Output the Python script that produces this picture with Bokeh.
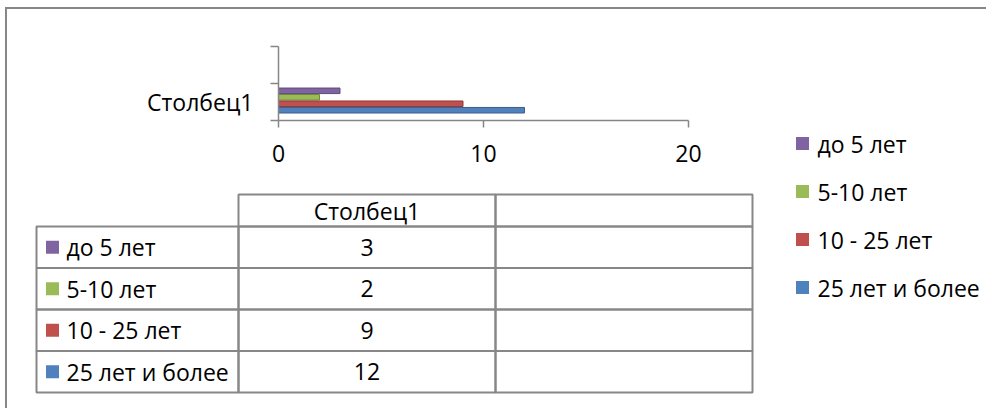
from bokeh.plotting import figure
from bokeh.layouts import row, column
from bokeh.models import Range1d, FixedTicker, ColumnDataSource
from bokeh.core.properties import value
from bokeh.embed import file_html
from bokeh.resources import INLINE

# ---------------- data ----------------
categories = ["Столбец1", ""]
series = ["до 5 лет", "5-10 лет", "10 - 25 лет", "25 лет и более"]
values = [3, 2, 9, 12]
colors = ["#8064A2", "#9BBB59", "#C0504D", "#4F81BD"]
edge_colors = ["#5E4A7A", "#71893F", "#8E3A38", "#3A5F8C"]
x_ticks = [0, 10, 20]
table_header = ["Столбец1", ""]

FONT = "Open Sans"
FS = "23px"
GRID = "#878787"
AXIS = "#868686"

# ---------------- chart (bars) ----------------
A_W, A_H = 753, 183
pA = figure(width=A_W, height=A_H, output_backend="svg", toolbar_location=None,
            x_range=Range1d(0, 20), y_range=Range1d(0, len(categories)),
            min_border_left=271, min_border_right=72, min_border_top=37, min_border_bottom=72)
pA.outline_line_color = None
pA.grid.visible = False

n = len(series)
ypos = [0.54 + ((n - 1 - i) - (n - 1) / 2) * 0.175 for i in range(n)]
srcA = ColumnDataSource(dict(y=ypos, right=values, color=colors, edge=edge_colors))
pA.hbar(y="y", left=0, right="right", height=0.15, fill_color="color",
        line_color="edge", line_width=1, source=srcA)

pA.xaxis.ticker = FixedTicker(ticks=x_ticks, minor_ticks=[])
pA.xaxis.major_tick_out = 7
pA.xaxis.major_tick_in = 0
pA.xaxis.axis_line_color = AXIS
pA.xaxis.axis_line_width = 1.5
pA.xaxis.major_tick_line_color = AXIS
pA.xaxis.major_tick_line_width = 1.5
pA.xaxis.major_label_text_font = FONT
pA.xaxis.major_label_text_font_size = FS
pA.xaxis.major_label_text_color = "black"
pA.xaxis.major_label_standoff = 17

cat_ticks = [i + 0.5 for i in range(len(categories))]
pA.yaxis.ticker = FixedTicker(ticks=cat_ticks, minor_ticks=list(range(len(categories) + 1)))
pA.yaxis.major_label_overrides = {t: c for t, c in zip(cat_ticks, categories)}
pA.yaxis.major_tick_out = 0
pA.yaxis.major_tick_in = 0
pA.yaxis.minor_tick_out = 8
pA.yaxis.minor_tick_in = 0
pA.yaxis.minor_tick_line_color = AXIS
pA.yaxis.minor_tick_line_width = 1.5
pA.yaxis.axis_line_color = AXIS
pA.yaxis.axis_line_width = 1.5
pA.yaxis.major_label_text_font = FONT
pA.yaxis.major_label_text_font_size = FS
pA.yaxis.major_label_text_color = "black"
pA.yaxis.major_label_standoff = 17

# ---------------- data table ----------------
B_W, B_H = 753, 216
pB = figure(width=B_W, height=B_H, output_backend="svg", toolbar_location=None,
            x_range=Range1d(0, B_W), y_range=Range1d(B_H, 0),
            min_border=0, min_border_left=0, min_border_right=0,
            min_border_top=0, min_border_bottom=0)
pB.axis.visible = False
pB.grid.visible = False
pB.outline_line_color = None

col_edges = [29, 231, 488, 745]
row_top = 2
head_h = 32
row_h = 41.5
body_top = row_top + head_h

hl = col_edges[1:-1]
hr = col_edges[2:]
pB.quad(left=hl, right=hr, top=[row_top] * len(hl), bottom=[body_top] * len(hl),
        fill_color=None, line_color=GRID, line_width=2)
pB.text(x=[(l + r) / 2 for l, r in zip(hl, hr)], y=[row_top + head_h / 2] * len(hl),
        text=table_header, text_font=value(FONT), text_font_size=value(FS),
        text_align="center", text_baseline="middle", text_color="black")

cl, cr, ct, cb = [], [], [], []
for k in range(n):
    for j in range(len(col_edges) - 1):
        cl.append(col_edges[j]); cr.append(col_edges[j + 1])
        ct.append(body_top + k * row_h); cb.append(body_top + (k + 1) * row_h)
pB.quad(left=cl, right=cr, top=ct, bottom=cb, fill_color=None, line_color=GRID, line_width=2)

row_mid = [body_top + (k + 0.5) * row_h for k in range(n)]
pB.scatter(x=[col_edges[0] + 16] * n, y=row_mid, marker="square", size=13,
           fill_color=colors, line_color=None)
pB.text(x=[col_edges[0] + 30] * n, y=row_mid, text=series, text_font=value(FONT),
        text_font_size=value(FS), text_align="left", text_baseline="middle", text_color="black")
pB.text(x=[(col_edges[1] + col_edges[2]) / 2] * n, y=row_mid, text=[str(v) for v in values],
        text_font=value(FONT), text_font_size=value(FS), text_align="center",
        text_baseline="middle", text_color="black")

# ---------------- legend ----------------
C_W, C_H = 226, 399
pC = figure(width=C_W, height=C_H, output_backend="svg", toolbar_location=None,
            x_range=Range1d(0, C_W), y_range=Range1d(C_H, 0),
            min_border=0, min_border_left=0, min_border_right=0,
            min_border_top=0, min_border_bottom=0)
pC.axis.visible = False
pC.grid.visible = False
pC.outline_line_color = None
leg_y = [134 + 48 * k for k in range(n)]
pC.scatter(x=[42] * n, y=leg_y, marker="square", size=13, fill_color=colors, line_color=None)
pC.text(x=[57] * n, y=leg_y, text=series, text_font=value(FONT), text_font_size=value(FS),
        text_align="left", text_baseline="middle", text_color="black")

layout = row(column(row(pA), row(pB), spacing=0), pC, spacing=0,
             styles={"border-top": "2px solid #878787", "border-left": "2px solid #878787",
                     "margin-left": "5px", "margin-top": "7px"})

open("out.html", "w").write(file_html(layout, INLINE))
